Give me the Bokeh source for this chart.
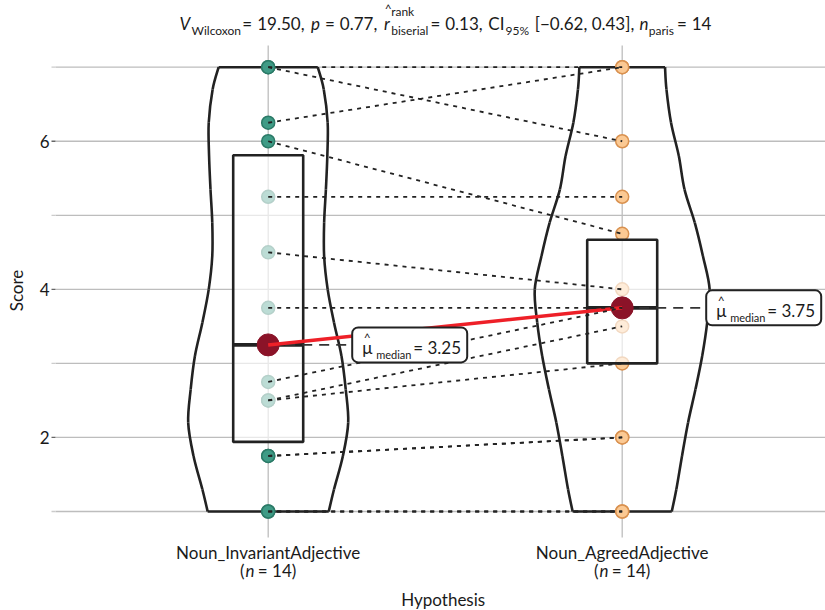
import numpy as np
from bokeh.plotting import figure
from bokeh.models import Range1d, Label, BoxAnnotation
from bokeh.core.properties import value
from bokeh.embed import file_html
from bokeh.resources import INLINE

# ---------------- data ----------------
conditions = ["Noun_InvariantAdjective", "Noun_AgreedAdjective"]
group_n = [14, 14]
invariant_scores = [7, 7, 6.25, 6, 5.25, 4.5, 3.75, 2.75, 2.5, 2.5, 1.75, 1, 1, 1.75]
agreed_scores = [7, 6, 7, 4.75, 5.25, 4.0, 3.75, 3.75, 3.5, 3.0, 2.0, 1, 1, 2.0]
box_q1 = [1.94, 3.0]
box_q3 = [5.81, 4.67]
violin_levels = [1.0, 1.3, 1.75, 2.2, 2.65, 3.1, 3.55, 4.0, 4.45, 4.9, 5.35, 5.8, 6.25, 6.7, 7.0]
invariant_violin_halfwidth = [0.171, 0.186, 0.211, 0.226, 0.219, 0.207, 0.186, 0.168,
                              0.158, 0.158, 0.163, 0.167, 0.168, 0.157, 0.140]
agreed_violin_halfwidth = [0.140, 0.153, 0.169, 0.186, 0.207, 0.226, 0.240, 0.247,
                           0.228, 0.205, 0.176, 0.160, 0.138, 0.125, 0.121]
y_major_ticks = [2, 4, 6]
y_minor_ticks = [1, 3, 5, 7]
stat_V = "19.50"
stat_p = "0.77"
stat_r = "0.13"
stat_ci = "[\u22120.62, 0.43]"
stat_npairs = "14"

medians = [float(np.median(invariant_scores)), float(np.median(agreed_scores))]
cats = [1, 2]

# ---------------- style / layout ----------------
FONT = "Lato, Roboto, sans-serif"
FS = 17          # main text size (px)
FSS = 12         # sub/superscript size (px)
MID = 0.38       # distance from baseline to the 'middle' anchor, in em
TXT = "#1a1a1a"
GRID = "#bdbdbd"
INK = "#222222"
PXX = 354.0      # pixels per x unit
PXY = 74.05      # pixels per y unit
CX1 = 267.7      # pixel column of the first category
Y1 = 511.0       # pixel row of score 1
BOX_HALF = 35 / PXX

# rough advance widths (em) used only to lay out the composite texts
EM = {**{d: 0.58 for d in "0123456789"}, ".": 0.25, ",": 0.25, " ": 0.2, "=": 0.58,
      "[": 0.3, "]": 0.3, "\u2212": 0.58, "%": 0.78, "(": 0.33, ")": 0.33,
      "V": 0.68, "C": 0.69, "I": 0.29, "W": 0.92,
      "a": 0.46, "b": 0.52, "c": 0.43, "d": 0.52, "e": 0.48, "i": 0.22, "k": 0.46,
      "l": 0.22, "m": 0.78, "n": 0.52, "o": 0.52, "p": 0.52, "r": 0.34, "s": 0.39, "x": 0.46}


def tw(s, size):
    return sum(EM.get(ch, 0.55) for ch in s) * size


def xd(ix):
    return 1 + (ix - CX1) / PXX


def yd(iy):
    return 1 + (Y1 - iy) / PXY


W, H = 825, 610
p = figure(width=W, height=H, x_range=Range1d(xd(0), xd(W)), y_range=Range1d(yd(H), yd(0)),
           x_axis_type=None, y_axis_type=None,
           output_backend="svg", toolbar_location=None, min_border=0)
p.outline_line_color = None

# panel: grid lines, ticks and tick labels
grid_levels = sorted(y_major_ticks + y_minor_ticks)
p.segment(x0=xd(55), x1=xd(W), y0=grid_levels, y1=grid_levels, line_color=GRID, line_width=1.3)
p.segment(x0=cats, x1=cats, y0=yd(45), y1=yd(537), line_color=GRID, line_width=1.3)
p.segment(x0=xd(51), x1=xd(55), y0=y_major_ticks, y1=y_major_ticks, line_color="#666666", line_width=1.3)
p.segment(x0=xd(51), x1=xd(55), y0=y_minor_ticks, y1=y_minor_ticks, line_color="#cccccc", line_width=1.3)
p.text(x=[xd(49)] * len(y_major_ticks), y=y_major_ticks, text=[str(t) for t in y_major_ticks],
       text_align="right", text_baseline="middle", text_font=value(FONT),
       text_font_size=f"{FS}px", text_color=TXT)
p.text(x=cats, y=[yd(552)] * 2, text=conditions, text_align="center", text_baseline="middle",
       text_font=value(FONT), text_font_size=f"{FS}px", text_color=TXT)


# violins: smooth outline through the measured half-widths
def smooth_side(xs, ys):
    n = len(xs)
    out = {k: [] for k in ("x0", "y0", "x1", "y1", "cx0", "cy0", "cx1", "cy1")}
    for i in range(n - 1):
        a, b = max(i - 1, 0), min(i + 2, n - 1)
        out["x0"].append(xs[i]); out["y0"].append(ys[i])
        out["x1"].append(xs[i + 1]); out["y1"].append(ys[i + 1])
        out["cx0"].append(xs[i] + (xs[i + 1] - xs[a]) / 6)
        out["cy0"].append(ys[i] + (ys[i + 1] - ys[a]) / 6)
        out["cx1"].append(xs[i + 1] - (xs[b] - xs[i]) / 6)
        out["cy1"].append(ys[i + 1] - (ys[b] - ys[i]) / 6)
    return out


for c, hw in zip(cats, [invariant_violin_halfwidth, agreed_violin_halfwidth]):
    for sign in (-1, 1):
        seg = smooth_side([c + sign * w for w in hw], violin_levels)
        p.bezier(**seg, line_color=INK, line_width=2.6)
    p.segment(x0=[c - hw[0], c - hw[-1]], x1=[c + hw[0], c + hw[-1]],
              y0=[violin_levels[0], violin_levels[-1]], y1=[violin_levels[0], violin_levels[-1]],
              line_color=INK, line_width=2.6)

# points
p.scatter(x=[cats[0]] * len(invariant_scores), y=invariant_scores, size=13,
          fill_color="#3f9b86", line_color="#2b7a67", line_width=1.5)
p.scatter(x=[cats[1]] * len(agreed_scores), y=agreed_scores, size=13,
          fill_color="#fbc993", line_color="#d9914f", line_width=1.5)

# boxes
p.quad(left=[c - BOX_HALF for c in cats], right=[c + BOX_HALF for c in cats],
       bottom=box_q1, top=box_q3, fill_color="white", fill_alpha=0.65,
       line_color=INK, line_width=2.6)
p.segment(x0=[c - BOX_HALF for c in cats], x1=[c + BOX_HALF for c in cats],
          y0=medians, y1=medians, line_color=INK, line_width=3.6)

# dashed leaders to the median labels
p.segment(x0=cats, x1=[c + 84 / PXX for c in cats], y0=medians, y1=medians,
          line_color="#333333", line_width=1.8, line_dash="10 7")

# median points and connecting line
p.scatter(x=cats, y=medians, size=22, fill_color="#8b1328", line_color="#8b1328")
p.line(x=cats, y=medians, line_color="#ee2028", line_width=3.5)

# paired lines
p.segment(x0=[cats[0]] * len(invariant_scores), y0=invariant_scores,
          x1=[cats[1]] * len(agreed_scores), y1=agreed_scores,
          line_color=INK, line_width=1.8, line_dash="4 5")


def put(text, x, y, dx=0.0, dy=0.0, size=FS, style="normal", align="left"):
    """dy is the downward pixel offset of the text baseline; the text is anchored at its middle."""
    p.add_layout(Label(x=x, y=y, x_offset=dx, y_offset=-(dy - MID * size), text=text,
                       text_font=FONT, text_font_size=f"{size}px", text_font_style=style,
                       text_align=align, text_baseline="middle", text_color=TXT))


# median label boxes
for c, m in zip(cats, medians):
    p.add_layout(BoxAnnotation(left=c + 84 / PXX, right=c + 199 / PXX,
                               bottom=m - 17.5 / PXY, top=m + 17.5 / PXY,
                               fill_color="white", fill_alpha=1.0, line_color=INK,
                               line_alpha=1.0, line_width=2, border_radius=6, level="annotation"))
    put("\u03bc", c, m, dx=84 + 10, dy=8.7)
    put("^", c, m, dx=84 + 15, dy=-2.5, size=FSS, align="center")
    put("median", c, m, dx=84 + 24, dy=13.5, size=FSS - 1)
    put(f"= {m:.2f}", c, m, dx=84 + 61, dy=8.7)

# title: composite text laid out piece by piece, centred over the panel
B, SUB, SUP = 29.3, 34.4, 15.5
GAP_EQ, GAP_SEP = 5.0, 6.0
tokens = [  # (text, size, style, baseline row, gap before, advances)
    ("V", FS, "italic", B, 0, True),
    ("Wilcoxon", FSS, "normal", SUB, 0.5, True),
    ("=", FS, "normal", B, GAP_EQ, True),
    (stat_V + ",", FS, "normal", B, GAP_EQ, True),
    ("p", FS, "italic", B, GAP_SEP, True),
    ("=", FS, "normal", B, GAP_EQ, True),
    (stat_p + ",", FS, "normal", B, GAP_EQ, True),
    ("r", FS, "italic", B, GAP_SEP, True),
    ("rank", FSS, "normal", SUP, 1.5, False),
    ("biserial", FSS, "normal", SUB, 1.5, True),
    ("=", FS, "normal", B, GAP_EQ, True),
    (stat_r + ",", FS, "normal", B, GAP_EQ, True),
    ("CI", FS, "normal", B, GAP_EQ, True),
    ("95%", FSS, "normal", SUB, 0.5, True),
    (stat_ci + ",", FS, "normal", B, GAP_SEP, True),
    ("n", FS, "italic", B, GAP_EQ, True),
    ("paris", FSS, "normal", SUB, 0.5, True),
    ("=", FS, "normal", B, GAP_EQ, True),
    (stat_npairs, FS, "normal", B, GAP_EQ, True),
]
total = sum(g + tw(t, s) for t, s, st, row, g, adv in tokens if adv)
cursor = 445.0 - total / 2
for t, s, st, row, g, adv in tokens:
    x0 = cursor + g
    put(t, xd(x0), yd(row), size=s, style=st)
    if t == "r":
        put("^", xd(x0 + tw(t, s) / 2 + 1.5), yd(12.5), size=FSS, align="center")
    if adv:
        cursor = x0 + tw(t, s)

# second line of x tick labels: (n = 14)
for c, n in zip(cats, group_n):
    parts = [("(", "normal", 0.0), ("n", "italic", 0.0), (f"= {n})", "normal", tw(" ", FS))]
    width = sum(tw(t, FS) + g for t, _, g in parts)
    cur = -width / 2
    for t, st, g in parts:
        cur += g
        put(t, c, yd(576), dx=cur, size=FS, style=st)
        cur += tw(t, FS)

# axis titles
put("Hypothesis", xd(442.7), yd(605.5), align="center")
p.add_layout(Label(x=xd(16), y=yd(290), text="Score", angle=np.pi / 2,
                   text_font=FONT, text_font_size=f"{FS}px", text_align="center",
                   text_baseline="middle", text_color=TXT))

open("out.html", "w").write(file_html(p, INLINE))
